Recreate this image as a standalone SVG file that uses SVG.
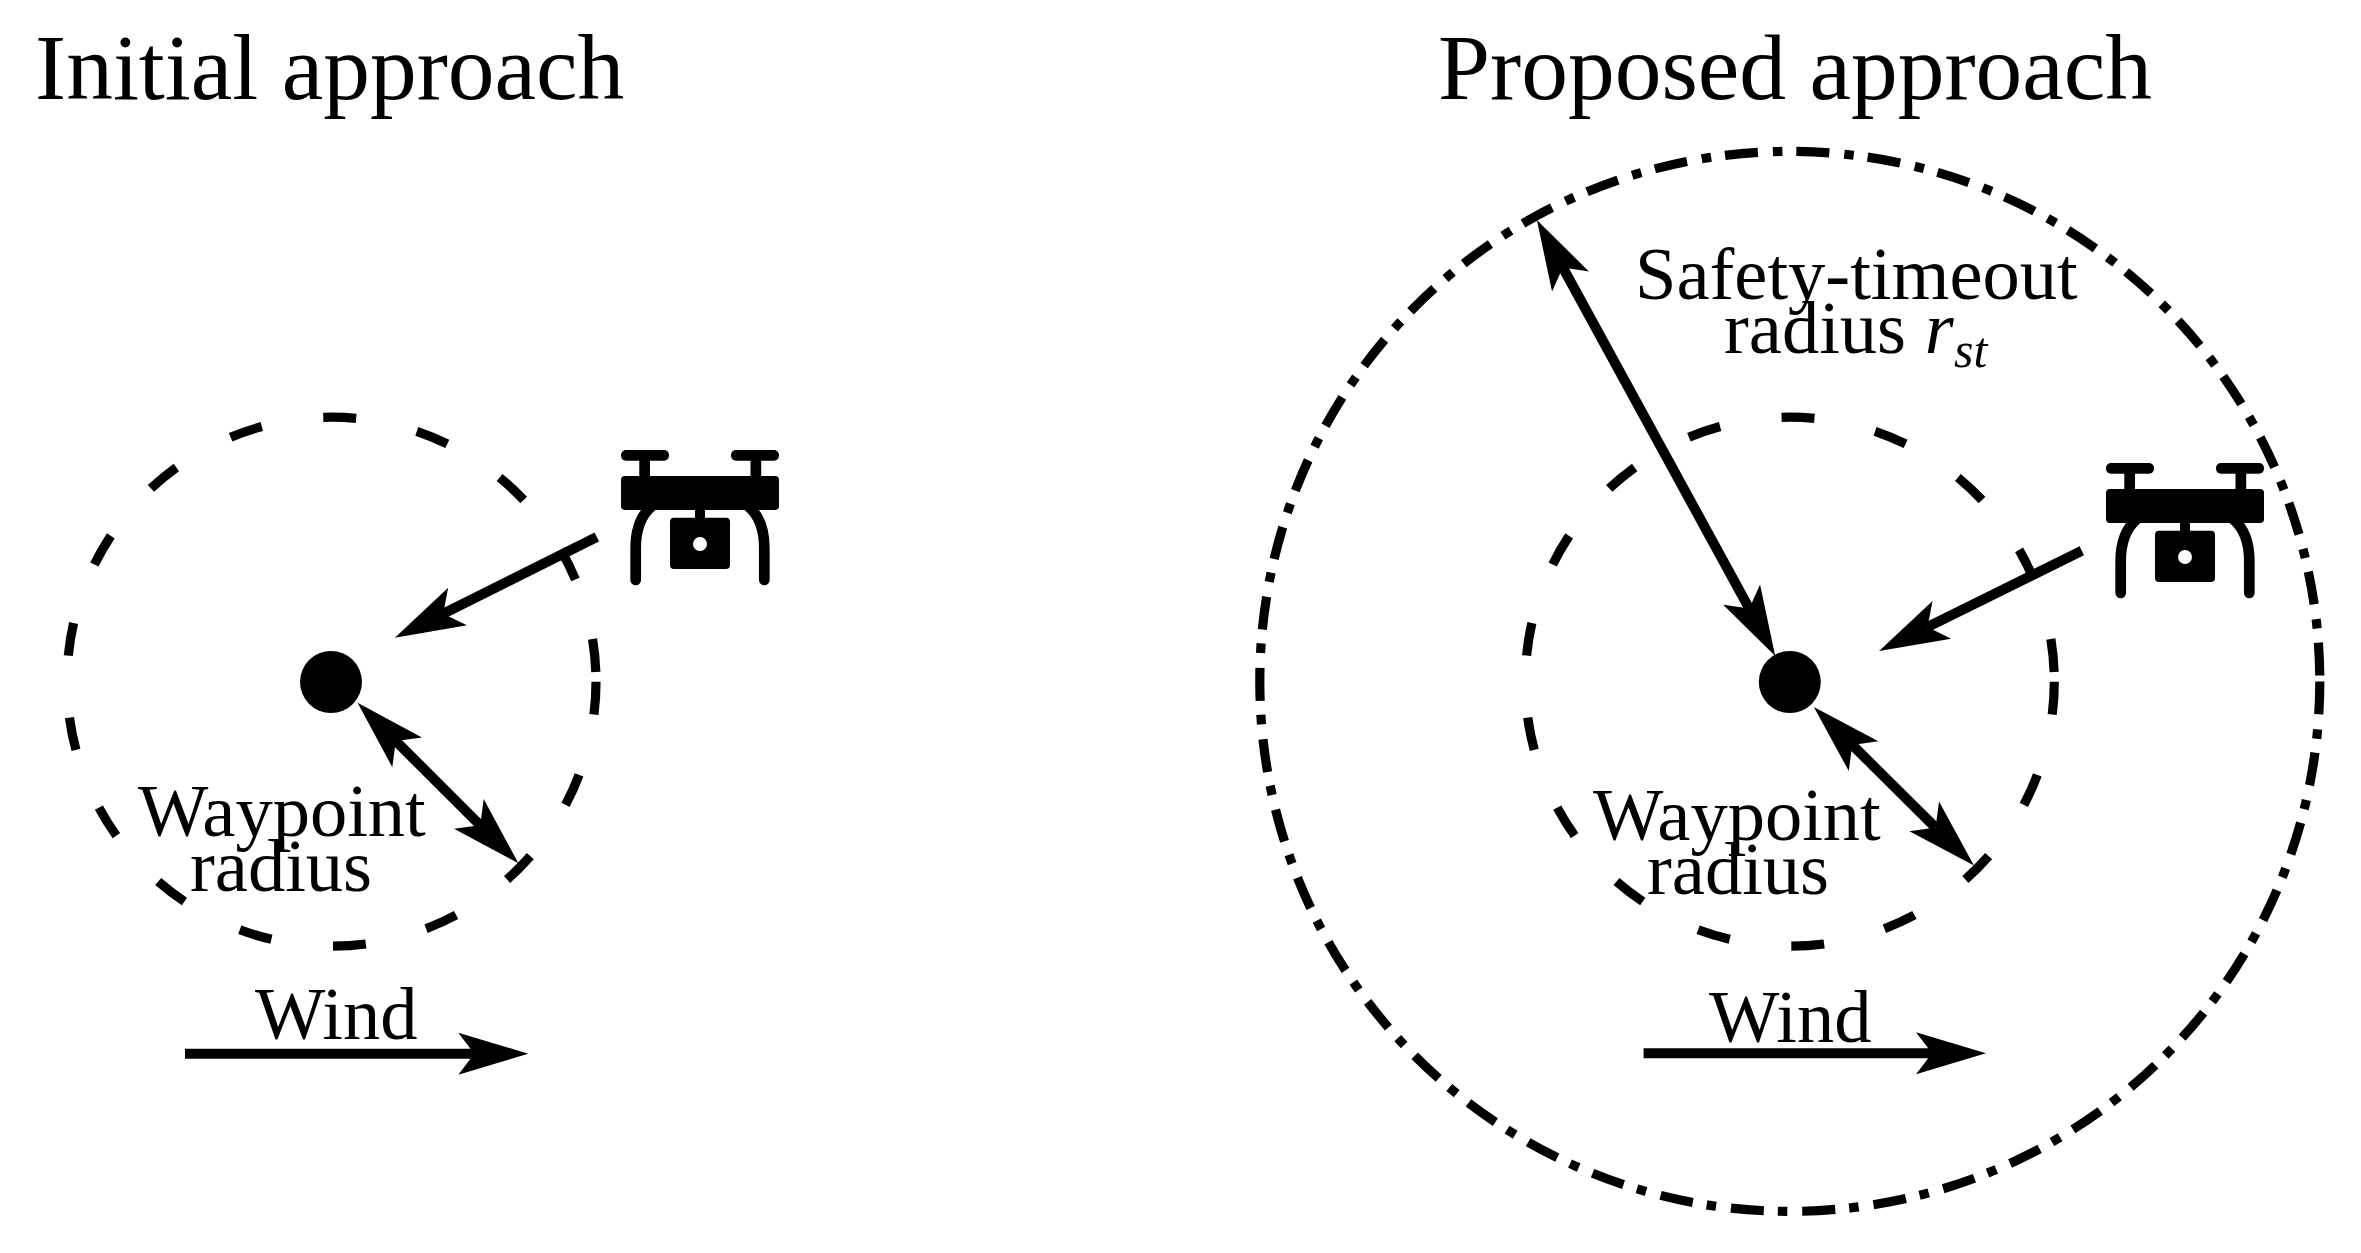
<svg xmlns="http://www.w3.org/2000/svg" width="2361" height="1253" viewBox="0 0 2361 1253">
<style>
text{font-family:"Liberation Serif","Times New Roman",serif;fill:#000}
.title{font-size:93.5px}
.label{font-size:74.5px}
.ital{font-style:italic}
.sub{font-size:50px;font-style:italic}
.way{fill:none;stroke:#000;stroke-width:9.2;stroke-dasharray:33 62.2}
.safe{fill:none;stroke:#000;stroke-width:9.2;stroke-dasharray:33 15 9.5 14.04}
.arrow{fill:none;stroke:#000;stroke-width:10;marker-end:url(#head)}
.both{marker-start:url(#head)}
</style>
<defs>
<marker id="head" markerUnits="userSpaceOnUse" markerWidth="72" markerHeight="44" viewBox="0 0 71 44" refX="16" refY="22" orient="auto-start-reverse">
<path d="M0 1L70 22L0 43L16 22Z" fill="#000"/>
</marker>
<g id="droneShape">
<rect x="621" y="450" width="48" height="10.7" rx="5"/>
<rect x="731" y="450" width="48" height="10.7" rx="5"/>
<rect x="639.3" y="458" width="10.7" height="20"/>
<rect x="750.5" y="458" width="10.7" height="20"/>
<rect x="621" y="476" width="158" height="34" rx="4"/>
<rect x="695" y="508" width="10" height="12"/>
<path fill-rule="evenodd" d="M674 517.7H726a4 4 0 0 1 4 4V565a4 4 0 0 1-4 4H674a4 4 0 0 1-4-4V521.700a4 4 0 0 1 4-4ZM707 544a7 7 0 1 0-14 0a7 7 0 1 0 14 0Z"/>
<path d="M652 506C640 516 635.700 530 635.700 548V580M748 506C760 516 764.300 530 764.300 548V580" fill="none" stroke="#000" stroke-width="10.700" stroke-linecap="round"/>
</g>
</defs>
<rect width="2361" height="1253" fill="#fff"/>
<g id="title-initial"><text class="title" x="35" y="99">Initial approach</text></g>
<g id="title-proposed"><text class="title" x="1438" y="99">Proposed approach</text></g>

<g id="waypoint-circle-initial"><circle class="way" cx="331.500" cy="681.700" r="264.500"/></g>
<g id="waypoint-initial"><circle cx="331" cy="682" r="31"/></g>
<g id="drone-initial"><use href="#droneShape"/></g>
<g id="waypoint-label-initial"><text class="label" x="138" y="836">Waypoint</text><text class="label" x="190" y="891">radius</text></g>
<g id="wind-label-initial"><text class="label" x="255" y="1039">Wind</text></g>

<g id="safety-circle"><circle class="safe" cx="1789.800" cy="681.400" r="530"/></g>
<g id="waypoint-circle-proposed"><circle class="way" cx="1789.800" cy="681.700" r="264.500"/></g>
<g id="waypoint-proposed"><circle cx="1789.800" cy="682" r="31"/></g>
<g id="drone-proposed"><use href="#droneShape" x="1485" y="13"/></g>
<g id="safety-label"><text class="label" x="1635" y="299">Safety-timeout</text><text class="label" x="1724" y="353">radius <tspan class="ital">r</tspan></text><text class="sub" x="1954" y="367">st</text></g>
<g id="waypoint-label-proposed"><text class="label" x="1593" y="840">Waypoint</text><text class="label" x="1647" y="894">radius</text></g>
<g id="wind-label-proposed"><text class="label" x="1709" y="1042">Wind</text></g>

<g id="connectors">
<line class="arrow" x1="596.800" y1="537" x2="443.200" y2="613.700"/>
<line class="arrow both" x1="395.800" y1="741" x2="480.200" y2="825.200"/>
<line class="arrow" x1="185" y1="1053.700" x2="474.300" y2="1053.700"/>
<line class="arrow" x1="2081.800" y1="550.700" x2="1927.500" y2="627"/>
<line class="arrow both" x1="1852.200" y1="744.900" x2="1935.600" y2="827.600"/>
<line class="arrow both" x1="1562.800" y1="267.500" x2="1749.300" y2="608.600"/>
<line class="arrow" x1="1643.600" y1="1053.200" x2="1932" y2="1053.200"/>
</g>
</svg>
